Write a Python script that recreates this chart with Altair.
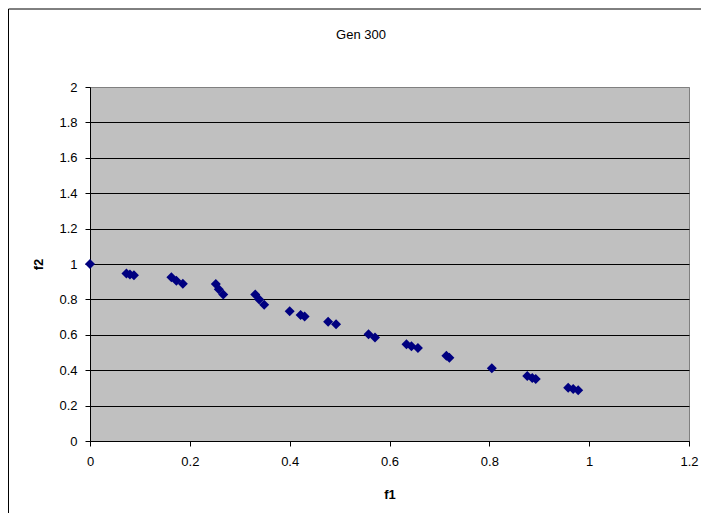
import altair as alt
import pandas as pd

# ---- data ----
f1 = [0.000,
      0.073, 0.080, 0.088,
      0.163, 0.173, 0.186,
      0.252, 0.258, 0.267,
      0.331, 0.339, 0.349,
      0.400, 0.422, 0.430,
      0.477, 0.493,
      0.558, 0.571,
      0.634, 0.644, 0.657,
      0.714, 0.720,
      0.805,
      0.876, 0.886, 0.893,
      0.958, 0.968, 0.978]
f2 = [1.000,
      0.947, 0.940, 0.936,
      0.925, 0.906, 0.889,
      0.887, 0.857, 0.828,
      0.828, 0.800, 0.770,
      0.733, 0.712, 0.703,
      0.674, 0.659,
      0.603, 0.585,
      0.546, 0.535, 0.526,
      0.482, 0.470,
      0.411,
      0.367, 0.356, 0.350,
      0.301, 0.294, 0.287]
x_ticks = [0, 0.2, 0.4, 0.6, 0.8, 1, 1.2]
y_ticks = [0, 0.2, 0.4, 0.6, 0.8, 1, 1.2, 1.4, 1.6, 1.8, 2]
title_text = ["Gen 300"]
x_title = "f1"
y_title = "f2"

FONT = "Liberation Sans"
W, H = 599, 354

df = pd.DataFrame({"f1": f1, "f2": f2})

x_scale = alt.Scale(domain=[0, 1.2], nice=False, zero=False)
y_scale = alt.Scale(domain=[0, 2], nice=False, zero=False)

points = alt.Chart(df).mark_point(
    shape="diamond", filled=True, size=100, color="#000080", opacity=1
).encode(
    x=alt.X("f1:Q", scale=x_scale, axis=alt.Axis(
        values=x_ticks, format="~g", grid=False,
        title=x_title, titleFont=FONT, titleFontSize=13, titleFontWeight="bold",
        titleX=W / 2, titleY=53, titleBaseline="middle", titleAlign="center",
        titleAnchor="start",
        labelFont=FONT, labelFontSize=13, labelColor="black", labelPadding=9,
        labelFlush=False, labelOverlap=False,
        tickColor="black", tickSize=5, domainColor="black")),
    y=alt.Y("f2:Q", scale=y_scale, axis=alt.Axis(
        values=y_ticks, format="~g", grid=True,
        gridColor=alt.condition("datum.value >= 2", alt.value("#808080"), alt.value("black")),
        gridWidth=1,
        title=y_title, titleFont=FONT, titleFontSize=13, titleFontWeight="bold",
        titleX=-52, titleY=H / 2, titleAngle=-90, titleBaseline="middle",
        titleAlign="center", titleAnchor="start",
        labelFont=FONT, labelFontSize=13, labelColor="black", labelPadding=8,
        labelFlush=False, labelOverlap=False,
        tickColor="black", tickSize=5, domainColor="black")),
)

border = alt.Chart(pd.DataFrame({"a": [0]})).mark_rect(
    fillOpacity=0, stroke="black", strokeWidth=1
).encode(
    x=alt.value(-81.5), x2=alt.value(700), y=alt.value(-78), y2=alt.value(500)
)

title = alt.Chart(pd.DataFrame({"t": title_text})).mark_text(
    font=FONT, fontSize=13, color="black", align="center", baseline="middle"
).encode(x=alt.value(271), y=alt.value(-52), text="t:N")

chart = alt.layer(border, points, title).properties(
    width=W, height=H,
    autosize=alt.AutoSizeParams(type="none"),
    padding={"left": 82, "top": 79, "right": 12, "bottom": 72},
    background="white",
).configure_view(fill="#C0C0C0", stroke="#808080", strokeWidth=1)

chart.save("out.html", embed_options={"renderer": "svg", "actions": False})
